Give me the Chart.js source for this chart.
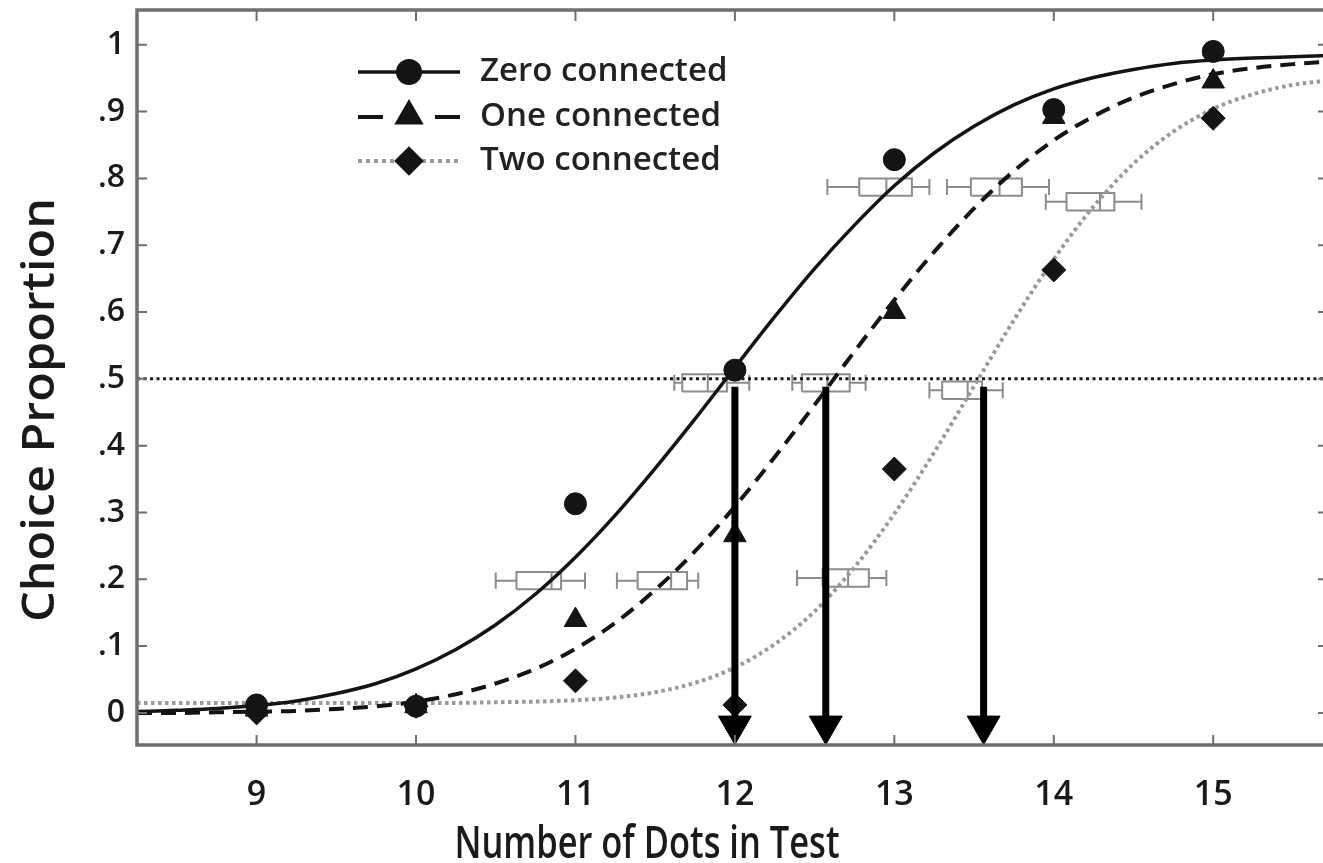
<!DOCTYPE html>
<html>
<head>
<meta charset="utf-8">
<script src="https://cdn.jsdelivr.net/npm/chart.js@4.4.1/dist/chart.umd.min.js"></script>
<style>
  html, body { margin: 0; padding: 0; background: #fff; overflow: hidden; }
  #wrap { position: relative; width: 1340px; height: 880px; }
</style>
</head>
<body>
<div id="wrap"><canvas id="chart"></canvas></div>
<script>
// Choice proportion vs. number of dots, three connection conditions.
var dotCounts = [9, 10, 11, 12, 13, 14, 15];
var seriesNames = ['Zero connected', 'One connected', 'Two connected'];
var zeroObserved = [0.012, 0.010, 0.313, 0.513, 0.828, 0.903, 0.990];
var oneObserved = [0.005, 0.010, 0.139, 0.266, 0.600, 0.892, 0.945];
var twoObserved = [0.000, 0.010, 0.048, 0.012, 0.365, 0.663, 0.890];

// fitted curves, every quarter dot
var curveX = [8.25, 8.5, 8.75, 9, 9.25, 9.5, 9.75, 10, 10.25, 10.5, 10.75, 11, 11.25, 11.5, 11.75, 12,
  12.25, 12.5, 12.75, 13, 13.25, 13.5, 13.75, 14, 14.25, 14.5, 14.75, 15, 15.25, 15.5, 15.75];
var zeroFit = [0.002, 0.004, 0.0065, 0.011, 0.018, 0.029, 0.044, 0.066, 0.095, 0.132, 0.178, 0.233, 0.296,
  0.366, 0.440, 0.517, 0.593, 0.665, 0.730, 0.789, 0.838, 0.878, 0.910, 0.934, 0.951, 0.963, 0.972, 0.977,
  0.980, 0.982, 0.984];
var oneFit = [0.000, 0.000, 0.001, 0.002, 0.003, 0.006, 0.010, 0.017, 0.028, 0.044, 0.066, 0.096, 0.135,
  0.184, 0.242, 0.309, 0.383, 0.461, 0.541, 0.618, 0.690, 0.755, 0.811, 0.857, 0.893, 0.921, 0.941, 0.956,
  0.965, 0.971, 0.975];
var twoFit = [0.015, 0.015, 0.015, 0.015, 0.015, 0.015, 0.015, 0.015, 0.015, 0.016, 0.017, 0.019, 0.023,
  0.031, 0.045, 0.068, 0.103, 0.152, 0.218, 0.298, 0.390, 0.489, 0.588, 0.679, 0.758, 0.822, 0.870, 0.904,
  0.926, 0.940, 0.947];

// grey box plots of estimated dots (whisker / box / median / box / whisker, at a level)
var boxLevel = [0.198, 0.198, 0.202, 0.494, 0.494, 0.483, 0.787, 0.787, 0.765];
var whiskerLow = [10.50, 11.26, 12.39, 11.62, 12.36, 13.22, 12.58, 13.33, 13.95];
var boxLow = [10.63, 11.39, 12.55, 11.67, 12.42, 13.30, 12.78, 13.48, 14.08];
var boxMedian = [10.85, 11.60, 12.71, 11.83, 12.58, 13.46, 12.95, 13.66, 14.29];
var boxHigh = [10.91, 11.70, 12.84, 11.95, 12.72, 13.55, 13.11, 13.80, 14.38];
var whiskerHigh = [11.06, 11.77, 12.95, 12.09, 12.82, 13.68, 13.22, 13.97, 14.55];

// points of subjective equality, marked by arrows down to the axis
var arrowX = [12.0, 12.57, 13.56];
var arrowTop = 0.488;
var criterion = 0.5;

var yTickValues = [0, 0.1, 0.2, 0.3, 0.4, 0.5, 0.6, 0.7, 0.8, 0.9, 1];
var yTickLabels = ['0', '.1', '.2', '.3', '.4', '.5', '.6', '.7', '.8', '.9', '1'];
var xTitle = 'Number of Dots in Test';
var yTitle = 'Choice Proportion';

var X_MIN = 8.25, X_MAX = 15.72;
var INK = '#141414';
var GREY_DOT = '#9a9a9a';
var BOX_GREY = '#8c8c8c';
var FRAME = '#6f6f6f';
var FONT = '"Open Sans", "Noto Sans", sans-serif';
var BOX_HALF = 0.013;
var CAP_HALF = 0.012;

function pts(xs, ys) {
  return xs.map(function (x, i) { return { x: x, y: ys[i] }; });
}

function boxPath() {
  var out = [];
  boxLevel.forEach(function (y, i) {
    var lo = y - BOX_HALF, hi = y + BOX_HALF;
    var cl = y - CAP_HALF, ch = y + CAP_HALF;
    out.push({ x: boxLow[i], y: lo }, { x: boxHigh[i], y: lo }, { x: boxHigh[i], y: hi },
      { x: boxLow[i], y: hi }, { x: boxLow[i], y: lo }, { x: boxLow[i], y: null });
    out.push({ x: boxMedian[i], y: lo }, { x: boxMedian[i], y: hi }, { x: boxMedian[i], y: null });
    out.push({ x: whiskerLow[i], y: y }, { x: boxLow[i], y: y }, { x: boxLow[i], y: null });
    out.push({ x: boxHigh[i], y: y }, { x: whiskerHigh[i], y: y }, { x: whiskerHigh[i], y: null });
    out.push({ x: whiskerLow[i], y: cl }, { x: whiskerLow[i], y: ch }, { x: whiskerLow[i], y: null });
    out.push({ x: whiskerHigh[i], y: cl }, { x: whiskerHigh[i], y: ch }, { x: whiskerHigh[i], y: null });
  });
  return out;
}

function shaftPath() {
  var out = [];
  arrowX.forEach(function (x) {
    out.push({ x: x, y: arrowTop }, { x: x, y: -0.015 }, { x: x, y: null });
  });
  return out;
}

function curve(ys, color, dash, width) {
  return {
    data: pts(curveX, ys), showLine: true, pointRadius: 0, borderColor: color, borderWidth: width,
    borderDash: dash, cubicInterpolationMode: 'monotone', order: 3
  };
}

function markers(ys, style, radius) {
  return {
    data: pts(dotCounts, ys), pointStyle: style, pointRadius: radius, backgroundColor: INK,
    borderColor: INK, borderWidth: 1, order: 1
  };
}

// tick-label overflow would otherwise shrink the plot area
function noPadding(s) {
  s.paddingTop = 0; s.paddingBottom = 0; s.paddingLeft = 0; s.paddingRight = 0;
}

// frame, inward tick marks, legend and axis titles
var decor = {
  id: 'decor',
  afterDraw: function (chart) {
    var ctx = chart.ctx, a = chart.chartArea, sx = chart.scales.x, sy = chart.scales.y;
    ctx.save();
    ctx.strokeStyle = FRAME;
    ctx.lineWidth = 2;
    dotCounts.forEach(function (v) {
      var px = sx.getPixelForValue(v);
      ctx.beginPath();
      ctx.moveTo(px, a.bottom); ctx.lineTo(px, a.bottom - 10);
      ctx.moveTo(px, a.top); ctx.lineTo(px, a.top + 11);
      ctx.stroke();
    });
    yTickValues.forEach(function (v) {
      var py = sy.getPixelForValue(v);
      ctx.beginPath();
      ctx.moveTo(a.left, py); ctx.lineTo(a.left + 10, py);
      ctx.moveTo(a.right, py); ctx.lineTo(a.right - 10, py);
      ctx.stroke();
    });
    ctx.lineWidth = 3.5;
    ctx.strokeRect(a.left, a.top, a.right - a.left, a.bottom - a.top);

    // legend
    var x0 = a.left + 221, x1 = a.left + 323, xm = (x0 + x1) / 2;
    var rows = [a.top + 62, a.top + 107, a.top + 151];
    ctx.lineCap = 'butt';
    ctx.strokeStyle = INK; ctx.lineWidth = 3.5;
    ctx.beginPath(); ctx.moveTo(x0, rows[0]); ctx.lineTo(x1, rows[0]); ctx.stroke();
    ctx.lineWidth = 4;
    ctx.beginPath();
    ctx.moveTo(x0, rows[1]); ctx.lineTo(x0 + 25, rows[1]);
    ctx.moveTo(x1 - 25, rows[1]); ctx.lineTo(x1, rows[1]);
    ctx.stroke();
    ctx.strokeStyle = GREY_DOT; ctx.setLineDash([4, 4]);
    ctx.beginPath(); ctx.moveTo(x0, rows[2]); ctx.lineTo(x1, rows[2]); ctx.stroke();
    ctx.setLineDash([]);
    ctx.fillStyle = INK; ctx.strokeStyle = INK;
    Chart.helpers.drawPoint(ctx, { pointStyle: 'circle', radius: 11, rotation: 0, borderWidth: 1 }, xm, rows[0]);
    Chart.helpers.drawPoint(ctx, { pointStyle: 'triangle', radius: 13, rotation: 0, borderWidth: 1 }, xm, rows[1] - 1);
    Chart.helpers.drawPoint(ctx, { pointStyle: 'rectRot', radius: 12, rotation: 0, borderWidth: 1 }, xm, rows[2]);
    ctx.font = '600 33px ' + FONT;
    ctx.textBaseline = 'middle';
    ctx.textAlign = 'left';
    ctx.fillStyle = '#222';
    seriesNames.forEach(function (name, i) { ctx.fillText(name, a.left + 343, rows[i]); });

    // axis titles
    ctx.font = '600 45px ' + FONT;
    ctx.textAlign = 'center';
    ctx.fillStyle = '#1a1a1a';
    var w = ctx.measureText(xTitle).width;
    ctx.save();
    ctx.translate(647, 845);
    ctx.scale(385 / w, 1);
    ctx.fillText(xTitle, 0, 0);
    ctx.restore();
    w = ctx.measureText(yTitle).width;
    ctx.save();
    ctx.translate(41, 410);
    ctx.rotate(-Math.PI / 2);
    ctx.scale(424 / w, 1);
    ctx.fillText(yTitle, 0, 0);
    ctx.restore();
    ctx.restore();
  }
};

new Chart(document.getElementById('chart'), {
  type: 'scatter',
  data: {
    datasets: [
      {
        data: shaftPath(), showLine: true, pointRadius: 0, borderColor: '#000', borderWidth: 7,
        borderCapStyle: 'butt', order: 0
      },
      {
        data: arrowX.map(function (x) { return { x: x, y: -0.019 }; }), pointStyle: 'triangle',
        pointRotation: 180, pointRadius: 19, backgroundColor: '#000', borderColor: '#000', borderWidth: 1, order: 0
      },
      markers(zeroObserved, 'circle', 11),
      markers(oneObserved, 'triangle', 13),
      markers(twoObserved, 'rectRot', 12),
      curve(zeroFit, INK, [], 3.5),
      curve(oneFit, INK, [15, 9], 4),
      curve(twoFit, GREY_DOT, [3.5, 3.5], 4),
      {
        data: [{ x: X_MIN, y: criterion }, { x: X_MAX, y: criterion }], showLine: true, pointRadius: 0,
        borderColor: '#1a1a1a', borderWidth: 3, borderDash: [3, 3.5], order: 4
      },
      {
        data: boxPath(), showLine: true, pointRadius: 0, borderColor: BOX_GREY, borderWidth: 2,
        spanGaps: false, order: 5
      }
    ]
  },
  options: {
    responsive: true,
    maintainAspectRatio: false,
    animation: false,
    events: [],
    layout: { autoPadding: false, padding: { top: 10, right: 12, left: 0, bottom: 0 } },
    plugins: { legend: { display: false }, tooltip: { enabled: false } },
    scales: {
      x: {
        type: 'linear', min: X_MIN, max: X_MAX,
        grid: { display: false, drawTicks: false },
        border: { display: false },
        afterBuildTicks: function (s) { s.ticks = dotCounts.map(function (v) { return { value: v }; }); },
        afterFit: function (s) { s.height = 135; noPadding(s); },
        ticks: {
          autoSkip: false, maxRotation: 0, padding: 30, color: '#1a1a1a',
          font: { family: FONT, size: 34, weight: '600' },
          callback: function (v) { return String(v); }
        }
      },
      y: {
        type: 'linear', min: -0.048, max: 1.052,
        grid: { display: false, drawTicks: false },
        border: { display: false },
        afterBuildTicks: function (s) { s.ticks = yTickValues.map(function (v) { return { value: v }; }); },
        afterFit: function (s) { s.width = 137; noPadding(s); },
        ticks: {
          autoSkip: false, padding: 12, color: '#1a1a1a',
          font: { family: FONT, size: 32, weight: '600' },
          callback: function (v, i) { return yTickLabels[i]; }
        }
      }
    }
  },
  plugins: [decor]
});
</script>
</body>
</html>
